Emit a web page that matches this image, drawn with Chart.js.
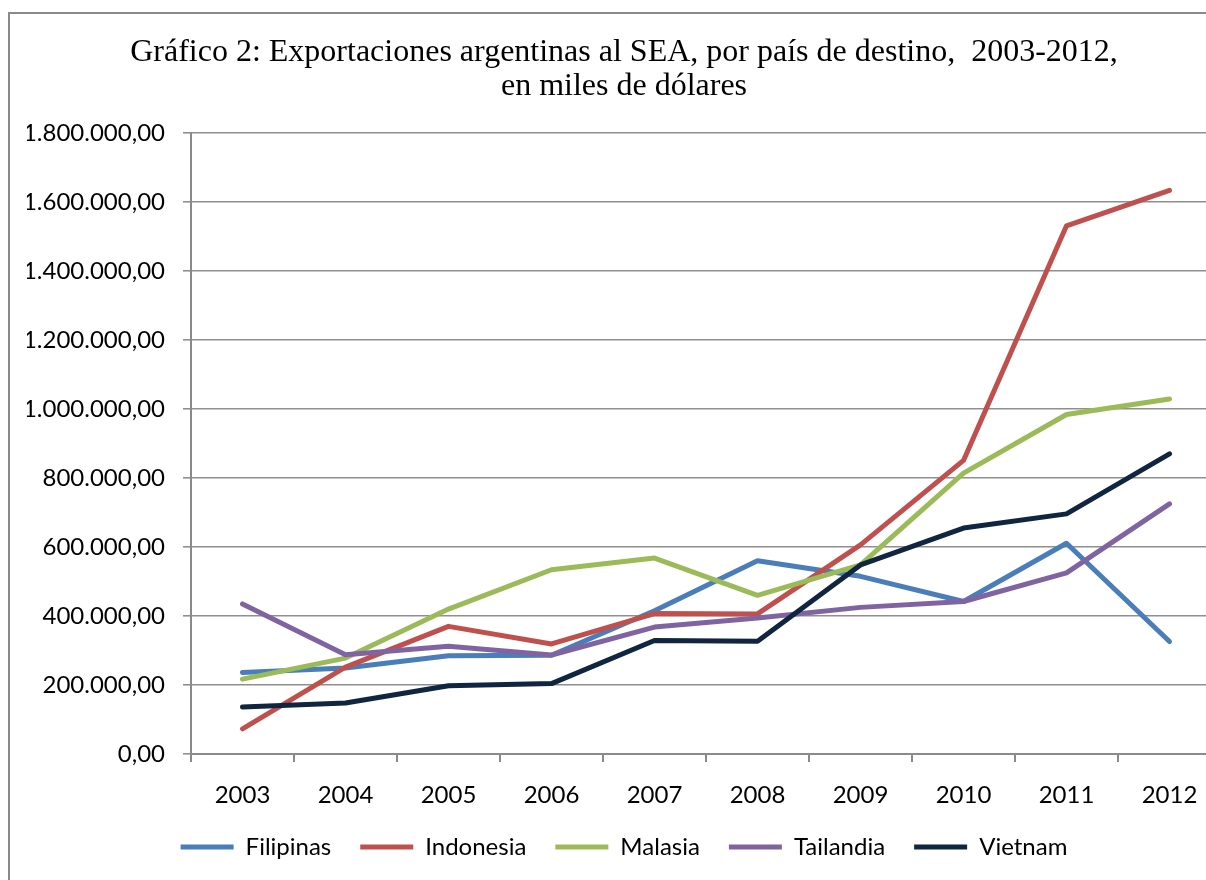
<!DOCTYPE html>
<html>
<head>
<meta charset="utf-8">
<script src="https://cdn.jsdelivr.net/npm/chart.js@4.4.1/dist/chart.umd.min.js"></script>
<style>
  html, body { margin: 0; padding: 0; background: #fff; overflow: hidden; width: 1206px; height: 880px; position: relative; }
  .edge { position: absolute; background: #8a8a8a; }
  #edgeL { left: 8px; top: 12px; width: 2px; height: 868px; }
  #edgeT { left: 8px; top: 12px; width: 1198px; height: 2px; }
  #c { position: absolute; left: 0; top: 0; }
</style>
</head>
<body>
<div class="edge" id="edgeL"></div>
<div class="edge" id="edgeT"></div>
<canvas id="c" width="1221" height="869"></canvas>
<script>
const titleLines = ["Gráfico 2: Exportaciones argentinas al SEA, por país de destino,  2003-2012,", "en miles de dólares"];
const years = ["2003", "2004", "2005", "2006", "2007", "2008", "2009", "2010", "2011", "2012"];
const seriesNames = ["Filipinas", "Indonesia", "Malasia", "Tailandia", "Vietnam"];
const filipinas = [236000, 249000, 285000, 286000, 415000, 560000, 515000, 442000, 611000, 326000];
const indonesia = [73000, 252000, 370000, 319000, 407000, 406000, 606000, 851000, 1531000, 1634000];
const malasia   = [217000, 278000, 420000, 534000, 568000, 460000, 548000, 814000, 984000, 1029000];
const tailandia = [435000, 288000, 312000, 287000, 368000, 394000, 425000, 442000, 525000, 725000];
const vietnam   = [136000, 148000, 198000, 204000, 329000, 327000, 548000, 655000, 696000, 870000];
const yTickLabels = ["0,00", "200.000,00", "400.000,00", "600.000,00", "800.000,00", "1.000.000,00", "1.200.000,00", "1.400.000,00", "1.600.000,00", "1.800.000,00"];
const colors = ["#4a7ebb", "#c0504d", "#9bbb59", "#8064a2", "#10253f"];

const seriesData = [filipinas, indonesia, malasia, tailandia, vietnam];
Chart.defaults.font.family = "Lato";
Chart.defaults.color = "#000";

const datasets = seriesNames.map((name, i) => ({
  label: name,
  data: seriesData[i],
  borderColor: colors[i],
  backgroundColor: colors[i],
  borderWidth: 5,
  borderCapStyle: "round",
  borderJoinStyle: "round",
  pointRadius: 0,
  pointHoverRadius: 0,
  pointStyle: "line",
  tension: 0,
  fill: false,
  order: seriesNames.length - 1 - i
}));

new Chart(document.getElementById("c"), {
  type: "line",
  data: { labels: years, datasets },
  options: {
    responsive: false,
    animation: false,
    devicePixelRatio: 1,
    layout: { padding: { left: 27, right: 0, top: 0, bottom: 0 } },
    plugins: {
      title: {
        display: true,
        text: titleLines,
        color: "#000",
        font: { family: "Liberation Serif", size: 32, weight: "normal", lineHeight: 1.0625 },
        padding: { top: 36, bottom: 29 }
      },
      legend: {
        position: "bottom",
        labels: {
          font: { size: 24 },
          color: "#000",
          padding: 29,
          usePointStyle: true,
          pointStyleWidth: 53,
          sort: (a, b) => a.datasetIndex - b.datasetIndex
        }
      },
      tooltip: { enabled: false }
    },
    scales: {
      x: {
        offset: true,
        grid: { offset: true, drawOnChartArea: false, drawTicks: true, tickLength: 8, color: "#8a8a8a", lineWidth: 2 },
        border: { display: true, color: "#8a8a8a", width: 2 },
        ticks: { font: { size: 24 }, color: "#000", padding: 19, maxRotation: 0, autoSkip: false },
        afterFit: (s) => { s.height = 52; }
      },
      y: {
        min: 0,
        max: 1800000,
        grid: { color: "#8f8f8f", lineWidth: 1.6, tickLength: 8, drawTicks: true },
        border: { display: true, color: "#8a8a8a", width: 2 },
        ticks: {
          stepSize: 200000,
          font: { size: 24 },
          color: "#000",
          padding: 18,
          callback: (v, i) => yTickLabels[i]
        },
        afterFit: (s) => { s.width = 164; }
      }
    }
  }
});
</script>
</body>
</html>
